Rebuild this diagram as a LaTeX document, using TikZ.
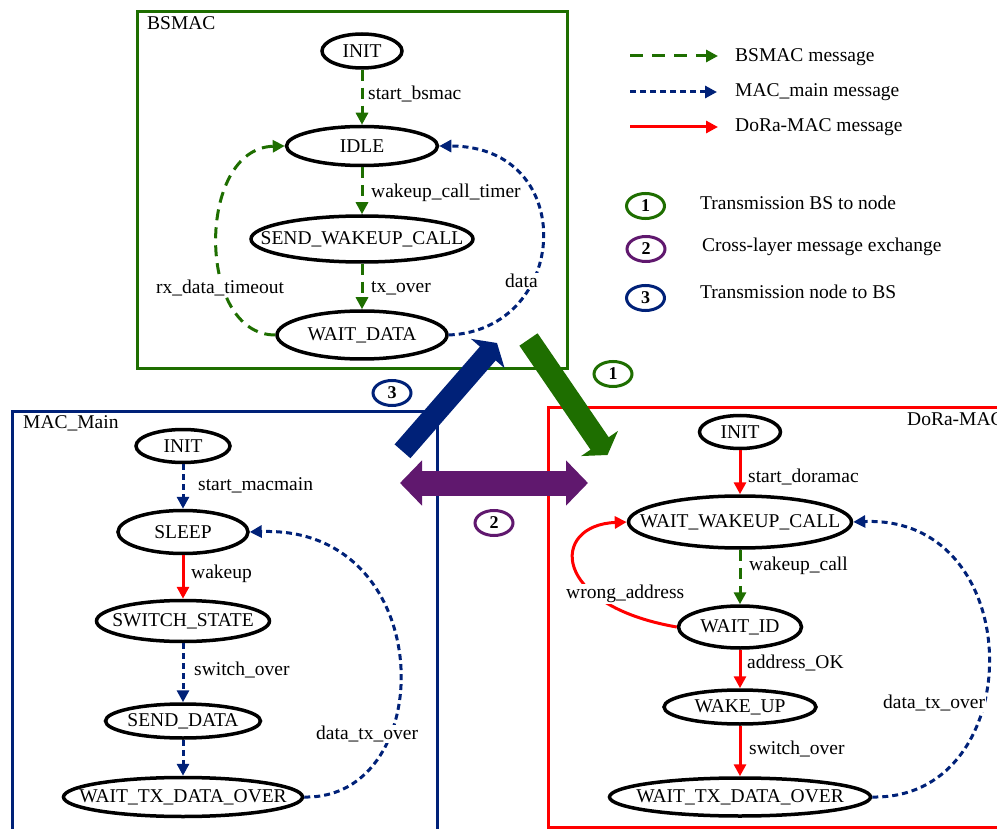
\documentclass[tikz,border=0pt]{standalone}
\usepackage{fontspec}
\setmainfont{Liberation Serif}
\usetikzlibrary{arrows.meta,shapes.geometric}
\definecolor{gr}{RGB}{30,110,0}
\definecolor{nv}{RGB}{0,33,120}
\definecolor{pu}{RGB}{96,24,110}
\definecolor{rd}{RGB}{255,0,0}
\newcommand{\statenode}[5]{%
  \node[stateshape, minimum width=#3pt, minimum height=#4pt] (#1) at (#2) {};
  \node[txt] (#1-t) at (#1.center) {#5};}
\begin{document}
\begin{tikzpicture}[x=1pt,y=-1pt,
  txt/.style={font=\fontsize{19.5}{22}\selectfont, inner sep=0pt},
  lbl/.style={txt, anchor=west},
  wlbl/.style={txt, anchor=west, fill=white, inner sep=1pt},
  stateshape/.style={ellipse, draw=black, line width=3.5pt, inner sep=0pt},
  tipa/.style={-{Triangle[length=12pt,width=12pt]}},
  gline/.style={draw=gr, line width=3pt, dash pattern=on 11pt off 7pt, tipa},
  bline/.style={draw=nv, line width=3pt, dash pattern=on 6pt off 4pt, tipa},
  rline/.style={draw=rd, line width=3pt, tipa},
  circ/.style={ellipse, line width=3pt, minimum width=38pt, minimum height=25pt, inner sep=0pt, font=\fontsize{18}{20}\selectfont\bfseries},
  boxline/.style={line width=3pt}
]
\useasboundingbox (0,0) rectangle (997,829);
\clip (0,0) rectangle (997,829);

% ---------- boxes ----------
\draw[boxline, draw=gr] (137,12) rectangle (567,369);
\draw[boxline, draw=nv] (12,411) rectangle (437,860);
\draw[boxline, draw=rd] (548,407) rectangle (1020,827);
\node[lbl] (lab-bsmac) at (147,23) {BSMAC};
\node[lbl] (lab-macmain) at (23,423) {MAC\_Main};
\node[lbl] (lab-dora) at (907,419) {DoRa-MAC};

% ---------- BSMAC ----------
\statenode{b-init}{362,51}{80}{34}{INIT}
\statenode{b-idle}{362,146}{151}{39}{IDLE}
\statenode{b-swc}{362,239}{222}{46}{SEND\_WAKEUP\_CALL}
\statenode{b-wd}{362,335}{170}{48}{WAIT\_DATA}

\draw[gline] (b-init) -- (b-idle);
\draw[gline] (b-idle) -- (b-swc);
\draw[gline] (b-swc) -- (b-wd);
\draw[gline] (b-wd.west) .. controls (196,335) and (196,148) .. (b-idle.west);
\draw[bline] (b-wd.east) .. controls (570,330) and (580,146) .. (b-idle.east);

\node[lbl] (l-sb) at (368,94) {start\_bsmac};
\node[lbl] (l-wct) at (371,193) {wakeup\_call\_timer};
\node[lbl] (l-to) at (371,288) {tx\_over};
\node[wlbl] (l-rdt) at (155,288) {rx\_data\_timeout};
\node[wlbl] (l-data) at (504,281) {data};

% ---------- MAC_Main ----------
\statenode{m-init}{183,446}{94}{33}{INIT}
\statenode{m-sleep}{183,532}{130}{43}{SLEEP}
\statenode{m-ss}{183,621}{173}{41}{SWITCH\_STATE}
\statenode{m-sd}{183,721}{155}{34}{SEND\_DATA}
\statenode{m-wt}{183,797}{239}{39}{WAIT\_TX\_DATA\_OVER}

\draw[bline] (m-init) -- (m-sleep);
\draw[rline] (m-sleep) -- (m-ss);
\draw[bline] (m-ss) -- (m-sd);
\draw[bline] (m-sd) -- (m-wt);
\draw[bline] (m-wt.east) .. controls (440,800) and (440,525) .. (m-sleep.east);

\node[lbl] (l-sm) at (198,485) {start\_macmain};
\node[lbl] (l-wk) at (191,574) {wakeup};
\node[lbl] (l-so1) at (194,670) {switch\_over};
\node[wlbl] (l-dto1) at (315,734) {data\_tx\_over};

% ---------- DoRa-MAC ----------
\statenode{d-init}{740,432}{81}{33}{INIT}
\statenode{d-wwc}{740,522}{223}{52}{WAIT\_WAKEUP\_CALL}
\statenode{d-wid}{740,627}{123}{42}{WAIT\_ID}
\statenode{d-wu}{740,707}{152}{34}{WAKE\_UP}
\statenode{d-wt}{740,797}{261}{38}{WAIT\_TX\_DATA\_OVER}

\draw[rline] (d-init) -- (d-wwc);
\draw[gline] (d-wwc) -- (d-wid);
\draw[rline] (d-wid) -- (d-wu);
\draw[rline] (d-wu) -- (d-wt);
\draw[rline] (d-wid.west) .. controls (550,605) and (550,525) .. (d-wwc.west);
\draw[bline] (d-wt.east) .. controls (1030,800) and (1030,515) .. (d-wwc.east);

\node[lbl] (l-sd) at (748,477) {start\_doramac};
\node[lbl] (l-wc) at (749,566) {wakeup\_call};
\node[wlbl] (l-wa) at (565,594) {wrong\_address};
\node[lbl] (l-aok) at (747,663) {address\_OK};
\node[wlbl] (l-dto2) at (882,703) {data\_tx\_over};
\node[lbl] (l-so2) at (749,749) {switch\_over};

% ---------- big arrows ----------
\coordinate (g-s) at (528.5,339.5);
\coordinate (g-e) at (607.5,455);
\draw[gr, line width=22pt, -{Triangle[length=14pt,width=44pt]}] (g-s) -- (g-e);
\coordinate (bl-s) at (402.5,451.3);
\coordinate (bl-e) at (497,343);
\draw[nv, line width=21pt, -{Triangle[length=14pt,width=44pt]}] (bl-s) -- (bl-e);
\coordinate (p-s) at (400,483);
\coordinate (p-e) at (588,483);
\draw[pu, line width=25pt, {Triangle[length=22pt,width=44pt]}-{Triangle[length=22pt,width=44pt]}] (p-s) -- (p-e);

\node[circ, draw=gr] (c1a) at (613,374) {1};
\node[circ, draw=pu] (c2a) at (494,523) {2};
\node[circ, draw=nv] (c3a) at (392,393) {3};

% ---------- legend ----------
\coordinate (lg1s) at (630,56); \coordinate (lg1e) at (718,56);
\coordinate (lg2s) at (630,92); \coordinate (lg2e) at (717,92);
\coordinate (lg3s) at (630,127); \coordinate (lg3e) at (718,127);
\draw[gline, dash pattern=on 13pt off 9pt] (lg1s) -- (lg1e);
\draw[bline] (lg2s) -- (lg2e);
\draw[rline] (lg3s) -- (lg3e);
\node[lbl] (lg1t) at (735,57) {BSMAC message};
\node[lbl] (lg2t) at (735,92) {MAC\_main message};
\node[lbl] (lg3t) at (735,127) {DoRa-MAC message};

\node[circ, draw=gr] (c1) at (645.5,206) {1};
\node[circ, draw=pu] (c2) at (646,249) {2};
\node[circ, draw=nv] (c3) at (645.5,298) {3};
\node[lbl] (c1t) at (700,203) {Transmission BS to node};
\node[lbl] (c2t) at (702,247) {Cross-layer message exchange};
\node[lbl] (c3t) at (700,292) {Transmission node to BS};
\end{tikzpicture}
\end{document}
